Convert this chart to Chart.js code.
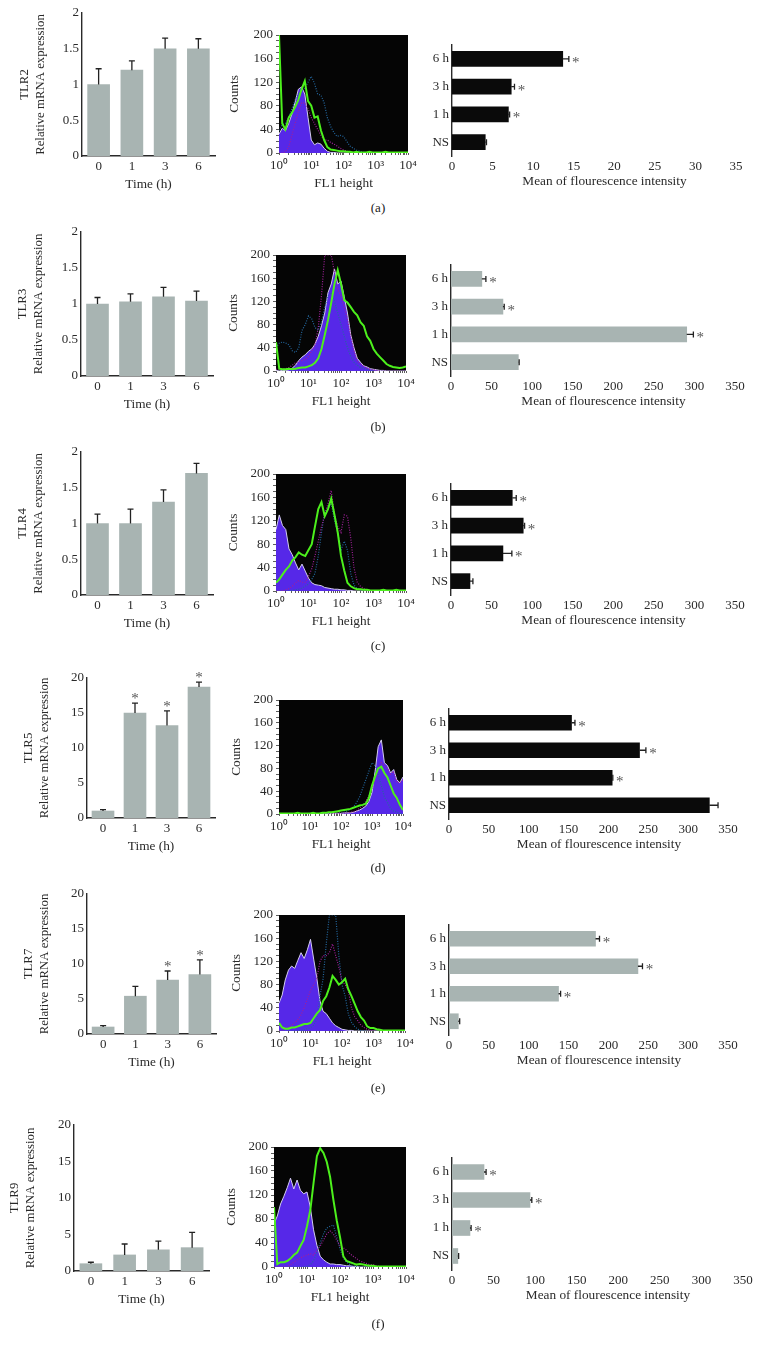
<!DOCTYPE html>
<html lang="en">

<head>
    <meta charset="UTF-8">
    <title>TLR expression</title>
    <style>
        html, body { margin: 0; background: #fff; overflow: hidden; }
        #page { position: relative; width: 760px; height: 1350px; }
        canvas { position: absolute; }
        .cap { position: absolute; left: 358px; width: 40px; text-align: center; font: 13px "Liberation Serif"; color: #222; }
    </style>
</head>

<body>
    <div id="page"></div>
    <script src="https://cdn.jsdelivr.net/npm/chart.js"></script>
    <script>
        // left column: relative mRNA
        const timeLabels = ['0', '1', '3', '6'];
        const mrnaTitles = ['TLR2', 'TLR3', 'TLR4', 'TLR5', 'TLR7', 'TLR9'];
        const mrnaA = [1, 1.2, 1.5, 1.5];
        const mrnaTopA = [1.22, 1.33, 1.65, 1.64];
        const mrnaB = [1, 1.03, 1.1, 1.04];
        const mrnaTopB = [1.09, 1.14, 1.23, 1.18];
        const mrnaC = [1, 1, 1.3, 1.7];
        const mrnaTopC = [1.13, 1.2, 1.47, 1.84];
        const mrnaD = [1, 15, 13.2, 18.7];
        const mrnaTopD = [1.2, 16.4, 15.3, 19.4];
        const mrnaE = [1, 5.4, 7.7, 8.5];
        const mrnaTopE = [1.2, 6.8, 9, 10.6];
        const mrnaF = [1, 2.2, 2.9, 3.2];
        const mrnaTopF = [1.2, 3.7, 4.1, 5.3];
        const mrnaStarD = ['1', '3', '6'];
        const mrnaStarE = ['3', '6'];

        // right column: mean of flourescence intensity
        const meanLabels = ['6 h', '3 h', '1 h', 'NS'];
        const meanStar = ['6 h', '3 h', '1 h'];
        const meanA = [13.65, 7.3, 6.95, 4.1];
        const meanTopA = [14.4, 7.7, 7.1, 4.25];
        const meanB = [38, 64, 290.5, 83];
        const meanTopB = [43, 65.6, 298.7, 84];
        const meanC = [75.5, 89, 64, 23.4];
        const meanTopC = [80.4, 90.7, 75, 27];
        const meanD = [153.7, 239, 204.7, 326.6];
        const meanTopD = [158, 247, 205.5, 337.5];
        const meanE = [183.8, 237, 137.4, 11.7];
        const meanTopE = [188.8, 242.7, 140, 13.4];
        const meanF = [38.5, 93.8, 21.6, 7];
        const meanTopF = [41, 96, 23, 8];

        // middle column: flow histograms, one count per channel
        const flowChannels = [1, 1.26, 1.58, 2, 2.51, 3.16, 3.98, 5.01, 6.31, 7.94,
            10, 12.6, 15.8, 20, 25.1, 31.6, 39.8, 50.1, 63.1, 79.4,
            100, 126, 158, 200, 251, 316, 398, 501, 631, 794,
            1000, 1260, 1580, 2000, 2510, 3160, 3980, 5010, 6310, 7940,
            10000];
        const flowTickLabels = { 1: '10⁰', 10: '10¹', 100: '10²', 1000: '10³', 10000: '10⁴' };

        const purpleA = [32, 42, 38, 50, 66, 86, 108, 112, 100, 60,
            22, 14, 17, 15, 8, 3, 1, 1, 0, 0,
            0, 0, 0, 0, 0, 0, 0, 0, 0, 0,
            0, 0, 0, 0, 0, 0, 0, 0, 0, 0,
            0];
        const greenA = [200, 50, 40, 60, 68, 78, 90, 108, 122, 88,
            80, 60, 62, 38, 22, 10, 6, 5, 4, 3,
            3, 2, 2, 1, 2, 1, 1, 1, 2, 1,
            1, 1, 1, 2, 1, 1, 1, 1, 1, 1,
            1];
        const magentaA = [0, 0, 2, 10, 30, 50, 70, 85, 85, 75,
            60, 50, 40, 30, 22, 22, 18, 15, 12, 8,
            5, 3, 2, 1, 0, 0, 0, 0, 0, 0,
            0, 0, 0, 0, 0, 0, 0, 0, 0, 0,
            0];
        const blueA = [38, 48, 50, 60, 75, 90, 100, 105, 110, 120,
            130, 118, 100, 98, 85, 60, 45, 35, 28, 30,
            28, 20, 12, 8, 5, 3, 1, 1, 0, 0,
            0, 0, 0, 0, 0, 0, 0, 0, 0, 0,
            0];

        const purpleB = [1, 0, 1, 1, 2, 5, 10, 18, 24, 28,
            34, 38, 46, 60, 78, 100, 135, 150, 176, 150,
            155, 128, 100, 62, 40, 22, 15, 9, 7, 4,
            3, 2, 1, 1, 0, 0, 0, 0, 0, 0,
            0];
        const greenB = [50, 4, 3, 3, 4, 3, 4, 5, 6, 6,
            8, 10, 14, 22, 38, 62, 88, 118, 150, 174,
            150, 122, 118, 110, 102, 96, 84, 78, 60, 52,
            38, 30, 24, 18, 12, 9, 7, 6, 5, 6,
            8];
        const magentaB = [3, 3, 3, 4, 6, 10, 14, 16, 18, 20,
            25, 35, 45, 75, 130, 200, 200, 200, 170, 140,
            130, 110, 90, 60, 35, 18, 12, 8, 5, 3,
            2, 1, 0, 0, 0, 0, 0, 0, 0, 0,
            0];
        const blueB = [40, 48, 50, 48, 45, 35, 32, 40, 70, 80,
            95, 90, 75, 70, 85, 110, 130, 135, 120, 100,
            80, 60, 40, 25, 15, 10, 6, 4, 3, 2,
            1, 0, 0, 0, 0, 0, 0, 0, 0, 0,
            0];

        const purpleC = [105, 130, 112, 105, 72, 62, 48, 36, 46, 34,
            22, 14, 11, 10, 9, 6, 5, 4, 3, 3,
            2, 2, 1, 1, 0, 0, 0, 0, 0, 0,
            0, 0, 0, 0, 0, 0, 0, 0, 0, 0,
            0];
        const greenC = [14, 20, 28, 36, 42, 52, 58, 66, 62, 60,
            70, 80, 110, 140, 152, 128, 140, 158, 130, 100,
            60, 35, 14, 8, 5, 3, 3, 2, 2, 1,
            1, 1, 1, 2, 1, 1, 1, 2, 1, 1,
            1];
        const magentaC = [0, 0, 0, 2, 4, 8, 14, 18, 15, 15,
            25, 38, 60, 85, 110, 130, 150, 172, 130, 110,
            100, 130, 128, 90, 40, 15, 8, 4, 2, 1,
            0, 0, 0, 0, 0, 0, 0, 0, 0, 0,
            0];
        const blueC = [0, 0, 0, 0, 0, 1, 2, 3, 5, 8,
            12, 20, 30, 60, 100, 135, 140, 150, 120, 100,
            70, 85, 70, 30, 10, 4, 2, 1, 0, 0,
            0, 0, 0, 0, 0, 0, 0, 0, 0, 0,
            0];

        const purpleD = [0, 0, 0, 0, 0, 0, 0, 0, 0, 0,
            0, 0, 0, 0, 1, 1, 1, 1, 1, 1,
            1, 2, 2, 2, 3, 5, 7, 10, 14, 22,
            38, 75, 118, 130, 90, 85, 72, 78, 60, 55,
            65];
        const greenD = [1, 1, 1, 1, 1, 1, 2, 1, 1, 1,
            1, 2, 1, 1, 2, 2, 3, 3, 4, 5,
            6, 7, 8, 9, 11, 13, 15, 16, 18, 28,
            50, 66, 80, 83, 72, 64, 50, 36, 28, 16,
            7];
        const magentaD = [0, 0, 0, 0, 0, 0, 0, 0, 0, 0,
            0, 0, 0, 0, 0, 0, 0, 1, 1, 1,
            1, 2, 2, 3, 4, 6, 10, 14, 22, 32,
            45, 60, 80, 90, 85, 80, 70, 75, 55, 55,
            60];
        const blueD = [0, 0, 0, 0, 0, 0, 0, 0, 0, 0,
            0, 0, 0, 0, 0, 0, 1, 1, 1, 2,
            2, 3, 5, 8, 12, 20, 30, 45, 60, 75,
            90, 85, 70, 50, 30, 20, 10, 5, 3, 1,
            0];

        const purpleE = [48, 62, 88, 105, 112, 108, 122, 135, 125, 140,
            158, 124, 92, 52, 34, 30, 22, 14, 9, 6,
            3, 2, 1, 1, 0, 0, 0, 0, 0, 0,
            0, 0, 0, 0, 0, 0, 0, 0, 0, 0,
            0];
        const greenE = [14, 6, 4, 4, 6, 6, 8, 10, 12, 12,
            14, 22, 30, 36, 52, 60, 75, 95, 88, 80,
            84, 90, 72, 60, 47, 34, 24, 18, 8, 5,
            5, 3, 2, 1, 1, 1, 1, 1, 1, 1,
            1];
        const magentaE = [0, 0, 4, 6, 10, 14, 20, 28, 40, 55,
            70, 80, 90, 120, 130, 130, 135, 150, 130, 110,
            85, 80, 70, 40, 25, 18, 10, 6, 3, 1,
            0, 0, 0, 0, 0, 0, 0, 0, 0, 0,
            0];
        const blueE = [0, 0, 0, 0, 0, 0, 0, 1, 2, 4,
            6, 10, 20, 60, 90, 150, 200, 200, 200, 130,
            80, 60, 30, 15, 8, 3, 1, 0, 0, 0,
            0, 0, 0, 0, 0, 0, 0, 0, 0, 0,
            0];

        const purpleF = [72, 85, 105, 118, 132, 148, 130, 145, 128, 122,
            125, 100, 62, 36, 18, 12, 8, 5, 5, 4,
            4, 3, 2, 2, 1, 1, 0, 0, 0, 0,
            0, 0, 0, 0, 0, 0, 0, 0, 0, 0,
            0];
        const greenF = [100, 5, 8, 8, 10, 14, 20, 24, 35, 45,
            68, 95, 140, 185, 198, 190, 175, 150, 112, 78,
            50, 18, 10, 8, 6, 4, 5, 4, 3, 2,
            2, 1, 1, 1, 1, 1, 1, 1, 1, 1,
            1];
        const magentaF = [0, 0, 0, 0, 0, 4, 8, 12, 15, 18,
            20, 22, 20, 28, 35, 45, 55, 60, 55, 45,
            35, 32, 28, 22, 18, 14, 10, 8, 6, 4,
            4, 2, 1, 0, 0, 0, 0, 0, 0, 0,
            0];
        const blueF = [0, 0, 0, 0, 0, 0, 0, 0, 0, 0,
            1, 4, 10, 25, 40, 55, 65, 68, 70, 50,
            30, 15, 8, 4, 2, 1, 0, 0, 0, 0,
            0, 0, 0, 0, 0, 0, 0, 0, 0, 0,
            0];

        const serif = 'Liberation Serif';
        const ink = '#2a2a2a';
        const barGrey = '#a8b4b2';
        const barBlack = '#0a0a0a';
        const topRoom = 12; // the top tick label needs this much above the plot
        const page = document.getElementById('page');

        function addCanvas(left, top, width, height) {
            const c = document.createElement('canvas');
            c.width = width;
            c.height = height;
            c.style.left = left + 'px';
            c.style.top = top + 'px';
            page.appendChild(c);
            return c;
        }

        // 誤差線和星號，Chart.js 沒有內建
        const errorBars = {
            id: 'errorBars',
            afterDatasetsDraw(chart) {
                const ds = chart.data.datasets[0];
                if (!ds.tops) return;
                const horizontal = chart.options.indexAxis === 'y';
                const valueScale = horizontal ? chart.scales.x : chart.scales.y;
                const ctx = chart.ctx;
                ctx.save();
                ctx.strokeStyle = '#222';
                ctx.lineWidth = 1.3;
                chart.getDatasetMeta(0).data.forEach(function (bar, i) {
                    const end = valueScale.getPixelForValue(ds.tops[i]);
                    const base = valueScale.getPixelForValue(ds.data[i]);
                    ctx.beginPath();
                    if (horizontal) {
                        ctx.moveTo(base, bar.y); ctx.lineTo(end, bar.y);
                        ctx.moveTo(end, bar.y - 3); ctx.lineTo(end, bar.y + 3);
                    } else {
                        ctx.moveTo(bar.x, base); ctx.lineTo(bar.x, end);
                        ctx.moveTo(bar.x - 3, end); ctx.lineTo(bar.x + 3, end);
                    }
                    ctx.stroke();
                    if (ds.stars.includes(chart.data.labels[i])) {
                        ctx.fillStyle = '#555';
                        ctx.font = '15px "' + serif + '"';
                        ctx.textAlign = 'center';
                        ctx.textBaseline = 'middle';
                        if (horizontal) ctx.fillText('*', end + 7, bar.y + 4);
                        else ctx.fillText('*', bar.x, end - 4);
                    }
                });
                ctx.restore();
            }
        };

        // 流式圖的黑底
        const blackPlot = {
            id: 'blackPlot',
            beforeDatasetsDraw(chart) {
                const a = chart.chartArea;
                chart.ctx.fillStyle = '#050505';
                chart.ctx.fillRect(a.left, a.top, a.width, a.height);
            }
        };

        // 右欄的 x 軸標題沒有置中在軸上，往右偏一點
        const meanCaption = {
            id: 'meanCaption',
            afterDraw(chart) {
                const a = chart.chartArea;
                const ctx = chart.ctx;
                ctx.save();
                ctx.fillStyle = ink;
                ctx.font = '13.3px "' + serif + '"';
                ctx.textAlign = 'center';
                ctx.textBaseline = 'middle';
                ctx.fillText('Mean of flourescence intensity', (a.left + a.right) / 2 + 10.5, a.bottom + 26);
                ctx.restore();
            }
        };

        function mrnaChart(box, title, max, step, values, tops, stars) {
            const c = addCanvas(box.left, box.top - topRoom, box.right - box.left + 6, box.bottom - box.top + topRoom + 36);
            new Chart(c, {
                type: 'bar',
                plugins: [errorBars],
                data: {
                    labels: timeLabels,
                    datasets: [{ data: values, tops: tops, stars: stars, backgroundColor: barGrey, barThickness: 22 }]
                },
                options: {
                    responsive: false,
                    animation: false,
                    layout: { padding: { top: topRoom, right: 6 } },
                    plugins: { legend: { display: false }, tooltip: { enabled: false } },
                    scales: {
                        x: {
                            afterFit: s => { s.height = 36; },
                            grid: { display: false, drawTicks: false },
                            border: { color: ink, width: 1.4 },
                            ticks: { color: ink, padding: 3, font: { family: serif, size: 13 } },
                            title: { display: true, text: 'Time (h)', color: ink, padding: 0, font: { family: serif, size: 13.3, lineHeight: 1.2 } }
                        },
                        y: {
                            min: 0,
                            max: max,
                            afterFit: s => { s.width = box.axis - box.left; },
                            grid: { display: false, drawTicks: false },
                            border: { color: ink, width: 1.4 },
                            ticks: { stepSize: step, color: ink, padding: 3, font: { family: serif, size: 13 }, callback: v => String(v) },
                            title: { display: true, text: [title, 'Relative mRNA expression'], color: ink, padding: 0, font: { family: serif, size: 12.8, lineHeight: 1.25 } }
                        }
                    }
                }
            });
        }

        function meanChart(box, color, max, step, values, tops) {
            const c = addCanvas(box.axis - 40, box.top - topRoom, box.right - box.axis + 40 + 16, box.bottom - box.top + topRoom + 36);
            new Chart(c, {
                type: 'bar',
                plugins: [errorBars, meanCaption],
                data: {
                    labels: meanLabels,
                    datasets: [{ data: values, tops: tops, stars: meanStar, backgroundColor: color, barThickness: 15 }]
                },
                options: {
                    indexAxis: 'y',
                    responsive: false,
                    animation: false,
                    layout: { padding: { top: topRoom, right: 16 } },
                    plugins: { legend: { display: false }, tooltip: { enabled: false } },
                    scales: {
                        x: {
                            min: 0,
                            max: max,
                            afterFit: s => { s.height = 36; },
                            grid: { display: false, drawTicks: false },
                            border: { display: false },
                            ticks: { stepSize: step, color: ink, padding: 3, maxRotation: 0, font: { family: serif, size: 13 } }
                        },
                        y: {
                            afterFit: s => { s.width = 40; },
                            grid: { display: false, drawTicks: false },
                            border: { color: ink, width: 1.4 },
                            ticks: { color: ink, padding: 3, font: { family: serif, size: 13 } }
                        }
                    }
                }
            });
        }

        function flowChart(box, purple, green, magenta, blue) {
            const c = addCanvas(box.left, box.top - topRoom, box.right - box.left + 14, box.bottom - box.top + topRoom + 38);
            new Chart(c, {
                type: 'line',
                plugins: [blackPlot],
                data: {
                    labels: flowChannels,
                    datasets: [
                        { data: green, borderColor: '#4cf01c', borderWidth: 2, pointRadius: 0, tension: 0 },
                        { data: magenta, borderColor: '#a0209a', borderWidth: 1.2, borderDash: [1, 1.5], pointRadius: 0, tension: 0 },
                        { data: blue, borderColor: '#2468a0', borderWidth: 1.2, borderDash: [1, 1.5], pointRadius: 0, tension: 0 },
                        { data: purple, borderColor: '#d4cdf0', backgroundColor: '#5628e8', borderWidth: 1, pointRadius: 0, tension: 0, fill: 'origin' }
                    ]
                },
                options: {
                    responsive: false,
                    animation: false,
                    layout: { padding: { top: topRoom, right: 14 } },
                    plugins: { legend: { display: false }, tooltip: { enabled: false } },
                    scales: {
                        x: {
                            type: 'logarithmic',
                            min: 1,
                            max: 10000,
                            afterFit: s => { s.height = 38; },
                            grid: { drawOnChartArea: false, tickLength: 2, color: '#333', lineWidth: 0.8 },
                            border: { display: false },
                            ticks: {
                                autoSkip: false,
                                maxRotation: 0,
                                color: ink,
                                padding: 3,
                                font: { family: serif, size: 13 },
                                callback: v => flowTickLabels[v] || ''
                            },
                            title: { display: true, text: 'FL1 height', color: ink, padding: 0, font: { family: serif, size: 13.3, lineHeight: 1.2 } }
                        },
                        y: {
                            min: 0,
                            max: 200,
                            afterFit: s => { s.width = box.plot - box.left; },
                            grid: { drawOnChartArea: false, tickLength: 3, color: '#333', lineWidth: 0.8 },
                            border: { display: false },
                            ticks: {
                                stepSize: 10,
                                autoSkip: false,
                                color: ink,
                                padding: 3,
                                font: { family: serif, size: 13 },
                                callback: v => (v % 40 === 0 ? String(v) : '')
                            },
                            title: { display: true, text: 'Counts', color: ink, padding: 0, font: { family: serif, size: 13.3, lineHeight: 1.2 } }
                        }
                    }
                }
            });
        }

        mrnaChart({ left: 17, axis: 82, top: 13, bottom: 156, right: 215 }, mrnaTitles[0], 2, 0.5, mrnaA, mrnaTopA, []);
        mrnaChart({ left: 15, axis: 81, top: 232, bottom: 376, right: 213 }, mrnaTitles[1], 2, 0.5, mrnaB, mrnaTopB, []);
        mrnaChart({ left: 15, axis: 81, top: 452, bottom: 595, right: 213 }, mrnaTitles[2], 2, 0.5, mrnaC, mrnaTopC, []);
        mrnaChart({ left: 21, axis: 87, top: 678, bottom: 818, right: 215 }, mrnaTitles[3], 20, 5, mrnaD, mrnaTopD, mrnaStarD);
        mrnaChart({ left: 21, axis: 87, top: 894, bottom: 1034, right: 216 }, mrnaTitles[4], 20, 5, mrnaE, mrnaTopE, mrnaStarE);
        mrnaChart({ left: 7, axis: 74, top: 1125, bottom: 1271, right: 209 }, mrnaTitles[5], 20, 5, mrnaF, mrnaTopF, []);

        flowChart({ left: 227, plot: 279, top: 35, bottom: 153, right: 408 }, purpleA, greenA, magentaA, blueA);
        flowChart({ left: 226, plot: 276, top: 255, bottom: 371, right: 406 }, purpleB, greenB, magentaB, blueB);
        flowChart({ left: 226, plot: 276, top: 474, bottom: 591, right: 406 }, purpleC, greenC, magentaC, blueC);
        flowChart({ left: 229, plot: 279, top: 700, bottom: 814, right: 403 }, purpleD, greenD, magentaD, blueD);
        flowChart({ left: 229, plot: 279, top: 915, bottom: 1031, right: 405 }, purpleE, greenE, magentaE, blueE);
        flowChart({ left: 224, plot: 274, top: 1147, bottom: 1267, right: 406 }, purpleF, greenF, magentaF, blueF);

        meanChart({ axis: 452, top: 45, bottom: 156, right: 736 }, barBlack, 35, 5, meanA, meanTopA);
        meanChart({ axis: 451, top: 265, bottom: 376, right: 735 }, barGrey, 350, 50, meanB, meanTopB);
        meanChart({ axis: 451, top: 484, bottom: 595, right: 735 }, barBlack, 350, 50, meanC, meanTopC);
        meanChart({ axis: 449, top: 709, bottom: 819, right: 728 }, barBlack, 350, 50, meanD, meanTopD);
        meanChart({ axis: 449, top: 925, bottom: 1035, right: 728 }, barGrey, 350, 50, meanE, meanTopE);
        meanChart({ axis: 452, top: 1158, bottom: 1270, right: 743 }, barGrey, 350, 50, meanF, meanTopF);

        // 面板編號
        [['(a)', 200], ['(b)', 419], ['(c)', 638], ['(d)', 860], ['(e)', 1080], ['(f)', 1316]].forEach(function (item) {
            const d = document.createElement('div');
            d.className = 'cap';
            d.textContent = item[0];
            d.style.top = item[1] + 'px';
            page.appendChild(d);
        });
    </script>
</body>

</html>
